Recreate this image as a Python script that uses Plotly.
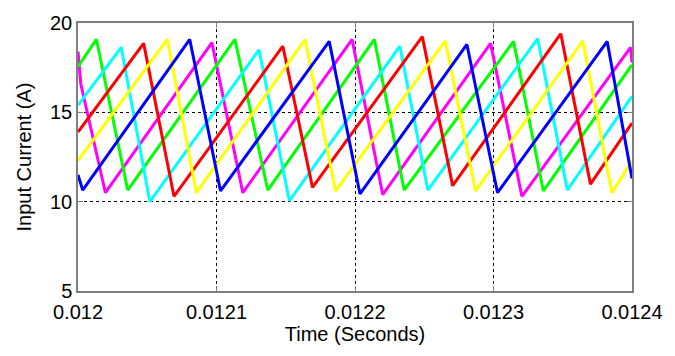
import numpy as np
import plotly.graph_objects as go

T0 = 0.012  # seconds
# vertices of each phase current: time offset (microseconds from 0.012 s), current (A)
magenta_t = [0, 2, 19.8, 96.7, 119, 197.9, 220, 297.9, 320.5, 399, 400]
magenta_i = [18.4, 16.6, 10.5, 18.9, 10.5, 19.08, 10.4, 18.86, 10.3, 18.64, 17.8]
green_t = [0, 13.3, 35.9, 113.3, 137, 214, 235.5, 314.5, 336, 400]
green_i = [17.55, 19.08, 10.65, 19.08, 10.65, 19.08, 10.65, 18.97, 10.6, 17.66]
cyan_t = [0, 31.2, 51.9, 130.7, 152.6, 232.4, 252.6, 331.9, 353.3, 400]
cyan_i = [15.4, 18.64, 10.0, 18.5, 10.05, 18.7, 10.65, 19.13, 10.65, 15.9]
red_t = [0, 47.4, 69.3, 147.9, 169.3, 248.6, 270.5, 348.6, 370, 400]
red_i = [13.9, 18.86, 10.3, 18.7, 10.8, 19.24, 10.9, 19.4, 10.98, 14.4]
yellow_t = [0, 64.5, 85.5, 164, 186, 265.2, 287, 364.5, 385.5, 400]
yellow_i = [12.3, 19.08, 10.5, 19.08, 10.6, 19.0, 10.6, 19.0, 10.5, 12.3]
blue_t = [0, 3.4, 80.7, 102.9, 181.4, 203.6, 280.8, 302.9, 382.1, 400]
blue_i = [11.5, 10.65, 19.08, 10.6, 18.97, 10.43, 18.8, 10.5, 18.97, 11.3]

x_tickvals = [0.012, 0.0121, 0.0122, 0.0123, 0.0124]
x_ticktext = ["0.012", "0.0121", "0.0122", "0.0123", "0.0124"]
y_tickvals = [5, 10, 15, 20]

series = [
    (magenta_t, magenta_i, "#FF00FF"),
    (green_t, green_i, "#00FF00"),
    (cyan_t, cyan_i, "#00FFFF"),
    (red_t, red_i, "#FF0000"),
    (yellow_t, yellow_i, "#FFFF00"),
    (blue_t, blue_i, "#0000FF"),
]

fig = go.Figure()
for t, i, c in series:
    fig.add_trace(go.Scatter(
        x=T0 + np.array(t) * 1e-6, y=i, mode="lines",
        line=dict(color=c, width=3), showlegend=False, hoverinfo="skip"))

font = dict(family="Arial, Liberation Sans, sans-serif", size=20, color="black")
axis_common = dict(
    showgrid=True, gridcolor="black", gridwidth=1, griddash="3px,3px",
    showline=True, linecolor="#7f7f7f", linewidth=1.5, mirror="ticks",
    ticks="inside", ticklen=5, tickcolor="#7f7f7f", tickwidth=1,
    zeroline=False, tickfont=font,
)
fig.update_layout(
    width=675, height=356,
    margin=dict(l=78, r=36, t=15, b=65),
    paper_bgcolor="white", plot_bgcolor="white",
    font=font,
    xaxis=dict(
        range=[0.012, 0.0124], tickvals=x_tickvals, ticktext=x_ticktext,
        ticklabelstandoff=2,
        title=dict(text="Time (Seconds)", font=font, standoff=4),
        **axis_common,
    ),
    yaxis=dict(
        range=[5, 20], tickvals=y_tickvals,
        title=dict(text="Input Current (A)", font=font, standoff=13),
        **axis_common,
    ),
)
fig.write_html("out.html")
